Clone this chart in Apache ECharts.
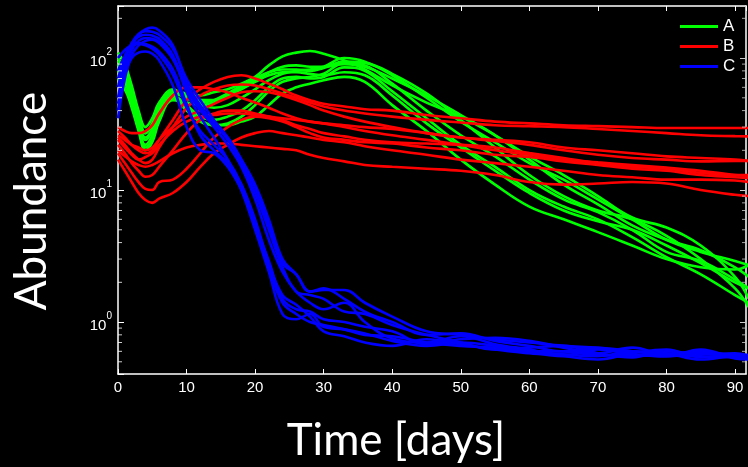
<!DOCTYPE html>
<html><head><meta charset="utf-8">
<script src="https://cdn.jsdelivr.net/npm/echarts@6/dist/echarts.min.js"></script>
<style>html,body{margin:0;padding:0;background:#000;}#c{width:748px;height:467px;}</style>
</head><body><div id="c"></div>
<script>
// Time points (days)
const days = [0,1,2,3,4,5,6,8,10,12,14,16,18,20,22,24,26,28,30,33,36,40,45,50,55,60,65,70,75,80,85,90,92];

// Series A (green)
const a1 = [95,80,55,36,27,31,42,56,54,52,55,58,64,72,88,103,110,113,108,96, 82,62,46,36,26,18,13,9,6.2,5.2,3.8,2.2,1.5];
const a2 = [110,90,62,40,30,35,46,58,50,44,42,44,50,58,68,76,80,82,86,100, 94,74,50,33,23,16,12,8.5,6,4.2,3.4,2.9,2.7];
const a3 = [70,60,44,29,21,24,35,50,42,34,31,32,36,44,56,66,70,72,76,92, 88,64,40,26,18,12,8.5,6.8,5,3.4,2.9,2.1,1.8];
const a4 = [80,68,47,30,22,26,37,52,44,36,34,36,40,48,60,70,72,70,72,85, 80,56,35,22,15,10,7.5,6,4.4,3.1,2.3,1.6,1.4];
const a5 = [100,84,58,37,27,32,43,55,52,48,48,52,58,66,74,78,78,76,74,78, 74,52,32,21,14,9.5,7,5.8,5,3.8,2.8,2.0,1.8];
const a6 = [65,58,42,28,20,23,33,48,46,44,46,52,60,68,78,86,88,86,86,90, 86,70,52,37,26,17,11,7.8,5.4,4.2,3.5,2.6,2.2];
const a7 = [90,74,52,33,24,28,38,50,40,33,31,31,33,36,44,54,60,64,68,72, 66,44,28,17,11,7.5,6,4.8,3.8,3.0,2.6,2.5,2.7];
const a8 = [75,66,48,32,25,29,40,54,50,46,48,54,62,70,78,82,82,80,84,94, 92,76,54,34,21,13,9,7,6,4.5,3,1.8,1.3];

// Series B (red)
const b1 = [28,25,22,20,19,20,24,34,48,58,66,72,74,70,64,58,52,48,45,43, 41,40,37,35,33,32,31,30.5,30,29.5,29.5,29.5,29.5];
const b2 = [25,22,19,17,16,17,21,30,42,52,58,62,63,62,58,54,50,46,43,40, 38,36,34,32.5,31,30.5,30,29,28,27,26,25.6,25.5];
const b3 = [30,28,27,27,28,31,38,52,60,60,58,55,50,46,42,38,35,33,32,31, 30,29,27,25,24,23,21,20,19,18,17.5,17,16.6];
const b4 = [22,19,16,14,12.6,13,15,20,27,34,38,40,40,38,36,34,31,29,27,25.5, 24,23,22.5,22,21,19.1,17.5,16,15,14.5,13.5,13,13];
const b5 = [19,16,13.5,11.5,10.2,10,11.5,12,14.5,19,25,30,34,36,35,33,30,27,25,24, 23,22.5,21,20,18.5,17.8,16.5,15.5,14.5,14,13,12.5,12.3];
const b6 = [17,14,11.5,9.5,8.4,8,8.6,9.5,11.5,15,19,22,25,27,28,27,26,25,24,23, 21.5,20,18.5,17,16,15,14,13,12.5,12,12,11.8,11.5];
const b7 = [20,18,16.5,15.5,15,15.5,16.5,19,21,22,22.5,22.5,22,21.5,21,20.5,20,18.5,17.5,16.5, 15.5,15,14.5,14,13,11.5,11,11.2,11.5,11.2,10,9.2,9.0];
const b8 = [24,21,18.5,17,17.8,19,22,28,33,36,37,38,38,37,36,35,34,33,32,30, 28,26,24,22,20,18.5,17,16.2,15.5,14.8,14,13,12.8];
const b9 = [26,24,22,21,20,21,24,30,36,40,45,50,55,56,55,52,48,44,40,36, 33,30,27,25,23.5,22,20,18.5,17.5,17,16.5,16.6,16.6];

// Series C (blue)
const c1 = [40,80,120,150,165,170,162,125,65,44,32,25,17,10.5,5.5,2.8,2.3,1.7,1.8,1.5, 1.2,1.0,0.8,0.82,0.72,0.66,0.6,0.63,0.6,0.57,0.6,0.55,0.55];
const c2 = [60,95,130,145,150,148,140,105,55,36,25,17,10,5,2.4,1.15,1.05,1.15,0.92,0.88, 0.82,0.72,0.66,0.7,0.66,0.6,0.57,0.55,0.6,0.58,0.52,0.55,0.54];
const c3 = [35,70,105,125,135,138,130,98,58,40,30,22,15,8.5,4.2,2.4,1.7,1.4,1.25,1.4, 1.0,0.75,0.7,0.78,0.68,0.62,0.56,0.62,0.57,0.55,0.62,0.53,0.52];
const c4 = [80,105,125,130,128,122,112,82,45,26,20,16,11,6,2.8,1.6,1.35,1.1,0.85,0.78, 0.7,0.66,0.74,0.68,0.62,0.58,0.55,0.52,0.58,0.62,0.54,0.57,0.55];
const c5 = [50,85,115,135,142,140,132,102,60,42,32,24,16,9.5,5,2.6,1.7,1.6,1.5,1.2, 1.15,0.95,0.8,0.7,0.62,0.64,0.66,0.58,0.54,0.6,0.57,0.58,0.56];
const c6 = [45,75,100,110,112,108,96,62,30,20,19,15,10,5.5,2.9,1.5,1.25,1.2,1.05,1.0, 0.92,0.85,0.68,0.74,0.76,0.72,0.64,0.58,0.64,0.57,0.6,0.55,0.54];
const c7 = [70,100,130,152,160,158,150,118,70,48,34,25,17,11,6,3,2.3,1.7,1.75,1.75, 1.4,1.1,0.85,0.8,0.74,0.7,0.66,0.64,0.6,0.56,0.55,0.54,0.53];
const c8 = [100,115,125,128,125,118,106,75,42,28,22,17,11,5.5,2.6,1.4,1.15,1.0,0.95,0.88, 0.8,0.78,0.7,0.66,0.64,0.6,0.6,0.56,0.56,0.55,0.58,0.54,0.53];

const groupA = [a1,a2,a3,a4,a5,a6,a7,a8];
const groupB = [b1,b2,b3,b4,b5,b6,b7,b8,b9];
const groupC = [c1,c2,c3,c4,c5,c6,c7,c8];

const legendNames = ['A','B','C'];
const xMin = 0, xMax = 91.6, xStep = 10;
const yMin = 0.404, yMax = 248;
const minorTickValues = [0.5,0.6,0.7,0.8,0.9,2,3,4,5,6,7,8,9,20,30,40,50,60,70,80,90,200];

const GREEN = '#00ff00', RED = '#ff0000', BLUE = '#0000ff';

function mk(name, color, arr) {
  return {
    type: 'line', name: name,
    data: days.map((d, i) => [d, arr[i]]),
    showSymbol: false, symbol: 'none', smooth: 0.4,
    lineStyle: { color: color, width: 2.6 },
    itemStyle: { color: color },
    silent: true, clip: true
  };
}

const series = [];
groupA.forEach(a => series.push(mk('A', GREEN, a)));
groupB.forEach(a => series.push(mk('B', RED, a)));
groupC.forEach(a => series.push(mk('C', BLUE, a)));
// minor log ticks on the left and right axes
series.push({
  type: 'scatter', data: minorTickValues.map(v => [xMin, v]),
  symbol: 'rect', symbolSize: [4, 1], symbolOffset: [2, 0],
  itemStyle: { color: '#ffffff' }, silent: true, clip: false, z: 5
});
series.push({
  type: 'scatter', data: minorTickValues.map(v => [xMax, v]),
  symbol: 'rect', symbolSize: [4, 1], symbolOffset: [-2, 0],
  itemStyle: { color: '#cccccc' }, silent: true, clip: false, z: 5
});

const axisLine = { show: true, onZero: false, lineStyle: { color: '#ffffff', width: 1.5 } };
const tickFont = 'Liberation Sans';

const chart = echarts.init(document.getElementById('c'), null, { renderer: 'canvas' });
chart.setOption({
  backgroundColor: '#000000',
  animation: false,
  grid: { left: 118, right: 2, top: 6, bottom: 93, containLabel: false },
  legend: {
    data: legendNames, orient: 'vertical', left: 675, top: 13,
    icon: 'rect', itemWidth: 38, itemHeight: 3, itemGap: 3,
    textStyle: { color: '#ffffff', fontSize: 17, fontFamily: tickFont, lineHeight: 14 }
  },
  xAxis: [
    { type: 'value', position: 'bottom', min: xMin, max: xMax, interval: xStep,
      axisLine: axisLine,
      axisTick: { inside: true, length: 5, lineStyle: { color: '#ffffff' } },
      axisLabel: { color: '#ffffff', fontSize: 15, fontFamily: tickFont, margin: 6, showMaxLabel: false },
      splitLine: { show: false } },
    { type: 'value', position: 'top', min: xMin, max: xMax, interval: xStep,
      axisLine: axisLine,
      axisTick: { inside: true, length: 5, lineStyle: { color: '#ffffff' } },
      axisLabel: { show: false }, splitLine: { show: false } }
  ],
  yAxis: [
    { type: 'log', logBase: 10, position: 'left', min: yMin, max: yMax,
      axisLine: axisLine,
      axisTick: { inside: true, length: 6, lineStyle: { color: '#ffffff' } },
      axisLabel: {
        margin: 6,
        formatter: function (v) {
          const e = Math.log10(v), r = Math.round(e);
          if (Math.abs(e - r) > 1e-6) return '';
          return '{b|10}{s|' + r + '}';
        },
        rich: {
          b: { color: '#ffffff', fontSize: 15, fontFamily: tickFont, lineHeight: 22, verticalAlign: 'bottom' },
          s: { color: '#ffffff', fontSize: 10, fontFamily: tickFont, verticalAlign: 'top' }
        }
      },
      splitLine: { show: false } },
    { type: 'log', logBase: 10, position: 'right', min: yMin, max: yMax,
      axisLine: axisLine,
      axisTick: { inside: true, length: 6, lineStyle: { color: '#cccccc' } },
      axisLabel: { show: false }, splitLine: { show: false } }
  ],
  graphic: [
    { type: 'text', x: 396, y: 441, silent: true,
      style: { text: 'Time [days]', fill: '#ffffff', font: '44px Lato', align: 'center', verticalAlign: 'middle', textAlign: 'center', textVerticalAlign: 'middle' } },
    { type: 'text', x: 32, y: 201, rotation: Math.PI / 2, silent: true,
      style: { text: 'Abundance', fill: '#ffffff', font: '44px Lato', align: 'center', verticalAlign: 'middle', textAlign: 'center', textVerticalAlign: 'middle' } }
  ],
  series: series
});
</script>
</body></html>
